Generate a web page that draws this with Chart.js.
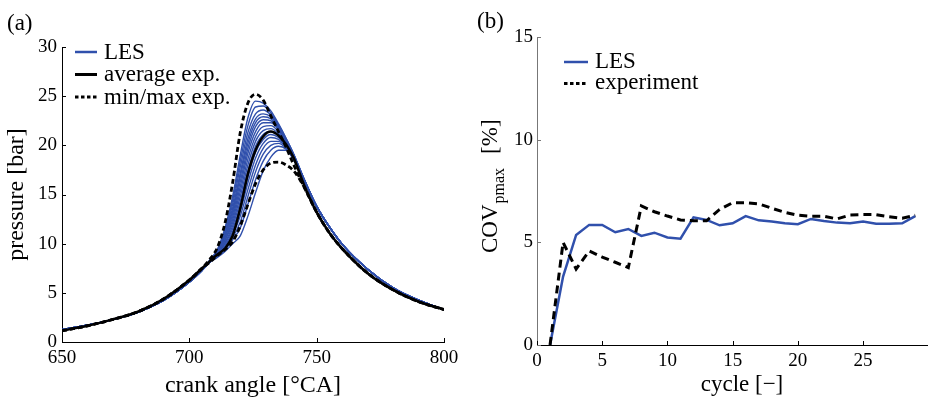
<!DOCTYPE html>
<html lang="en">
<head>
<meta charset="UTF-8">
<title>In-cylinder pressure and COV of peak pressure</title>
<script src="https://cdn.jsdelivr.net/npm/chart.js@4"></script>
<style>
  body { margin: 0; background: #fff; }
  #wrap { position: relative; width: 929px; height: 398px; }
  canvas { position: absolute; top: 0; }
  #pressure { left: 0; }
  #cov { left: 465px; }
</style>
</head>
<body>
<div id="wrap">
  <canvas id="pressure" width="465" height="398"></canvas>
  <canvas id="cov" width="464" height="398"></canvas>
</div>

<script>
// ---- (a) pressure traces ----
const crankAngle = [650, 660, 670, 680, 690, 700, 705,
                    708, 711, 714, 717, 720, 723, 726, 729, 732, 735, 738, 741, 745,
                    750, 755, 760, 770, 780, 790, 800];

// compression (650-705) and expansion (750-800) parts
const lesCompression = [1.25, 1.7, 2.3, 3.05, 4.25, 6.1, 7.3];
const lesExpansion   = [13.8, 11.7, 9.95, 7.4, 5.5, 4.25, 3.3];
const expCompression = [1.15, 1.65, 2.3, 3.1, 4.4, 6.3, 7.5];
const expExpansion   = [13.2, 11.1, 9.5, 7.0, 5.3, 4.1, 3.3];

// combustion part 708-745 °CA, one row per LES cycle
const lesRuns = [
  [8.3, 9.4, 11.6, 14.8, 19.0, 22.8, 24.5, 24.3, 23.5, 22.2, 20.7, 19.1, 16.6],
  [8.3, 9.3, 11.4, 14.4, 18.4, 22.0, 23.9, 24.0, 23.3, 22.1, 20.7, 19.1, 16.6],
  [8.3, 9.3, 11.2, 14.0, 17.8, 21.3, 23.2, 23.6, 23.1, 22.0, 20.6, 19.0, 16.6],
  [8.3, 9.2, 11.0, 13.6, 17.2, 20.7, 22.7, 23.2, 22.9, 21.9, 20.6, 19.0, 16.6],
  [8.2, 9.2, 10.9, 13.3, 16.8, 20.2, 22.3, 22.9, 22.7, 21.8, 20.5, 19.0, 16.6],
  [8.2, 9.1, 10.7, 13.0, 16.3, 19.7, 21.9, 22.6, 22.5, 21.7, 20.5, 19.0, 16.5],
  [8.2, 9.1, 10.6, 12.7, 15.8, 19.2, 21.4, 22.3, 22.3, 21.6, 20.4, 18.9, 16.5],
  [8.2, 9.0, 10.4, 12.4, 15.3, 18.6, 20.9, 21.9, 22.0, 21.4, 20.3, 18.9, 16.5],
  [8.2, 9.0, 10.3, 12.1, 14.8, 18.0, 20.4, 21.5, 21.7, 21.2, 20.2, 18.8, 16.5],
  [8.2, 8.9, 10.1, 11.8, 14.3, 17.4, 19.9, 21.1, 21.4, 21.0, 20.1, 18.8, 16.5],
  [8.2, 8.9, 10.0, 11.5, 13.8, 16.8, 19.3, 20.6, 21.1, 20.8, 20.0, 18.7, 16.5],
  [8.1, 8.8, 9.8, 11.2, 13.3, 16.2, 18.7, 20.2, 20.8, 20.6, 19.9, 18.7, 16.4],
  [8.1, 8.8, 9.7, 10.9, 12.8, 15.5, 18.0, 19.7, 20.4, 20.4, 19.8, 18.6, 16.4],
  [8.1, 8.7, 9.5, 10.6, 12.2, 14.8, 17.3, 19.1, 20.0, 20.2, 19.7, 18.6, 16.4],
  [8.1, 8.7, 9.4, 10.4, 11.6, 14.0, 16.5, 18.4, 19.5, 19.9, 19.6, 18.5, 16.4],
  [8.1, 8.6, 9.2, 10.0, 10.8, 12.8, 15.2, 17.4, 18.8, 19.5, 19.5, 18.6, 16.4]
];
const expAverage = [8.2, 8.9, 9.5, 10.8, 13.6, 17.1, 19.5, 20.9, 21.4, 21.0, 20.1, 18.7, 16.0];
const expMax     = [8.4, 9.6, 12.1, 16.2, 21.3, 24.3, 25.2, 24.6, 23.0, 21.4, 19.8, 18.0, 15.8];
const expMin     = [8.1, 8.8, 9.4, 10.2, 11.8, 14.0, 16.1, 17.5, 18.2, 18.3, 18.0, 17.4, 15.8];

// ---- (b) COV of peak pressure ----
const cycles = [1, 2, 3, 4, 5, 6, 7, 8, 9, 10, 11, 12, 13, 14, 15,
                16, 17, 18, 19, 20, 21, 22, 23, 24, 25, 26, 27, 28, 29];
const covLES = [0, 3.33, 5.36, 5.85, 5.85, 5.49, 5.65, 5.31, 5.47, 5.24, 5.18, 6.22, 6.09, 5.83, 5.93,
                6.28, 6.07, 6.02, 5.93, 5.88, 6.14, 6.04, 5.96, 5.93, 6.01, 5.91, 5.90, 5.93, 6.28];
const covExp = [0, 5.0, 3.7, 4.58, 4.28, 4.03, 3.77, 6.77, 6.49, 6.28, 6.09, 6.05, 6.05, 6.6, 6.93,
                6.93, 6.87, 6.66, 6.46, 6.32, 6.27, 6.27, 6.14, 6.33, 6.35, 6.35, 6.25, 6.17, 6.32];

const BLUE = '#3050ac';
const FONT = 'Liberation Serif';
Chart.defaults.font.family = FONT;
Chart.defaults.color = '#000';

function curve(compression, combustion, expansion) {
  return compression.concat(combustion, expansion).map((p, i) => ({ x: crankAngle[i], y: p }));
}

// small ticks pointing into the plot, like the original figure
const inwardTicks = {
  id: 'inwardTicks',
  afterDatasetsDraw(chart, args, opts) {
    const { ctx, chartArea: a, scales: { x, y } } = chart;
    ctx.save();
    ctx.lineWidth = 1;
    ctx.strokeStyle = opts.xColor || '#000';
    ctx.beginPath();
    x.ticks.forEach(t => {
      const px = Math.round(x.getPixelForValue(t.value)) + 0.5;
      ctx.moveTo(px, a.bottom); ctx.lineTo(px, a.bottom - 4);
    });
    ctx.stroke();
    ctx.strokeStyle = opts.yColor || '#000';
    ctx.beginPath();
    y.ticks.forEach(t => {
      const py = Math.round(y.getPixelForValue(t.value)) + 0.5;
      ctx.moveTo(a.left, py); ctx.lineTo(a.left + 4, py);
    });
    ctx.stroke();
    ctx.restore();
  }
};

// legend + panel letter drawn at fixed spots inside the axes
const annotations = {
  id: 'annotations',
  afterDraw(chart, args, opts) {
    const ctx = chart.ctx;
    ctx.save();
    ctx.fillStyle = '#000';
    ctx.font = '23px ' + FONT;
    ctx.textBaseline = 'alphabetic';
    ctx.fillText(opts.panel, opts.panelX, opts.panelY);
    opts.items.forEach((it, i) => {
      const ly = opts.y0 + i * opts.dy;
      ctx.beginPath();
      ctx.setLineDash(it.dash);
      ctx.lineWidth = it.width;
      ctx.strokeStyle = it.color;
      ctx.moveTo(opts.x0, ly);
      ctx.lineTo(opts.x0 + opts.len, ly);
      ctx.stroke();
      ctx.setLineDash([]);
      ctx.fillText(it.label, opts.x0 + opts.len + 7, ly + opts.textDy);
    });
    if (opts.drawTitles) opts.drawTitles(ctx);
    ctx.restore();
  }
};

const blackLine = { borderColor: '#000', pointRadius: 0, cubicInterpolationMode: 'monotone' };

new Chart(document.getElementById('pressure'), {
  type: 'line',
  data: {
    datasets: [
      Object.assign({ label: 'max exp.', data: curve(expCompression, expMax, expExpansion),
                      borderWidth: 2.8, borderDash: [5, 3] }, blackLine),
      Object.assign({ label: 'min exp.', data: curve(expCompression, expMin, expExpansion),
                      borderWidth: 2.8, borderDash: [5, 3] }, blackLine),
      Object.assign({ label: 'average exp.', data: curve(expCompression, expAverage, expExpansion),
                      borderWidth: 2.5 }, blackLine)
    ].concat(lesRuns.map((run, i) => ({
      label: 'LES ' + (i + 1),
      data: curve(lesCompression, run, lesExpansion),
      borderColor: BLUE, borderWidth: 1.4, pointRadius: 0, cubicInterpolationMode: 'monotone'
    })))
  },
  options: {
    responsive: false,
    animation: false,
    events: [],
    layout: { padding: { left: 0, right: 21, top: 47, bottom: 0 } },
    plugins: {
      legend: { display: false },
      tooltip: { enabled: false },
      inwardTicks: {},
      annotations: {
        panel: '(a)', panelX: 7, panelY: 30,
        x0: 75, y0: 52, dy: 22.5, len: 22, textDy: 6.5,
        items: [
          { label: 'LES', color: BLUE, width: 2.5, dash: [] },
          { label: 'average exp.', color: '#000', width: 3, dash: [] },
          { label: 'min/max exp.', color: '#000', width: 3, dash: [3.5, 2.5] }
        ]
      }
    },
    scales: {
      x: {
        type: 'linear', min: 650, max: 800,
        ticks: { stepSize: 50, padding: 5, font: { size: 19 } },
        grid: { display: false, drawTicks: false },
        border: { color: '#000', width: 1 },
        title: { display: true, text: 'crank angle [°CA]', font: { size: 24 }, padding: { top: 0, bottom: -2 } },
        afterFit: s => { s.height = 56; }
      },
      y: {
        min: 0, max: 30,
        ticks: { stepSize: 5, padding: 5, font: { size: 19 } },
        grid: { display: false, drawTicks: false },
        border: { color: '#000', width: 1 },
        title: { display: true, text: 'pressure [bar]', font: { size: 24 }, padding: { top: 2, bottom: 0 } },
        afterFit: s => { s.width = 62; }
      }
    }
  },
  plugins: [inwardTicks, annotations]
});

new Chart(document.getElementById('cov'), {
  type: 'line',
  data: {
    labels: cycles,
    datasets: [
      { label: 'experiment', data: cycles.map((c, i) => ({ x: c, y: covExp[i] })),
        borderColor: '#000', borderWidth: 3, borderDash: [8, 5], pointRadius: 0, tension: 0 },
      { label: 'LES', data: cycles.map((c, i) => ({ x: c, y: covLES[i] })),
        borderColor: BLUE, borderWidth: 2.5, pointRadius: 0, tension: 0 }
    ]
  },
  options: {
    responsive: false,
    animation: false,
    events: [],
    layout: { padding: { left: 0, right: 2, top: 37, bottom: 0 } },
    plugins: {
      legend: { display: false },
      tooltip: { enabled: false },
      inwardTicks: { yColor: '#777' },
      annotations: {
        panel: '(b)', panelX: 12, panelY: 28,
        x0: 99, y0: 62, dy: 21.5, len: 24, textDy: 5.5,
        items: [
          { label: 'LES', color: BLUE, width: 2.5, dash: [] },
          { label: 'experiment', color: '#000', width: 3, dash: [3.5, 2.5] }
        ],
        drawTitles(ctx) {
          ctx.font = '23px ' + FONT;
          ctx.textAlign = 'center';
          ctx.fillText('cycle [\u2212]', 277, 391);
          ctx.textAlign = 'left';
          ctx.save();
          ctx.translate(32, 253);
          ctx.rotate(-Math.PI / 2);
          ctx.fillText('COV', 0, 0);
          const w = ctx.measureText('COV').width;
          ctx.font = '16px ' + FONT;
          ctx.fillText('pmax', w + 1, 7);
          const ws = ctx.measureText('pmax').width;
          ctx.font = '23px ' + FONT;
          ctx.fillText('[%]', w + 1 + ws + 14, 0);
          ctx.restore();
        }
      }
    },
    scales: {
      x: {
        type: 'linear', min: 0, max: 29.9,
        ticks: { stepSize: 5, padding: 5, font: { size: 19 }, includeBounds: false },
        grid: { display: false, drawTicks: false },
        border: { color: '#000', width: 1 },
        afterFit: s => { s.height = 53; }
      },
      y: {
        min: 0, max: 15,
        ticks: { stepSize: 5, padding: 4, font: { size: 19 } },
        grid: { display: false, drawTicks: false },
        border: { color: '#777', width: 1 },
        afterFit: s => { s.width = 72; }
      }
    }
  },
  plugins: [inwardTicks, annotations]
});
</script>
</body>
</html>
